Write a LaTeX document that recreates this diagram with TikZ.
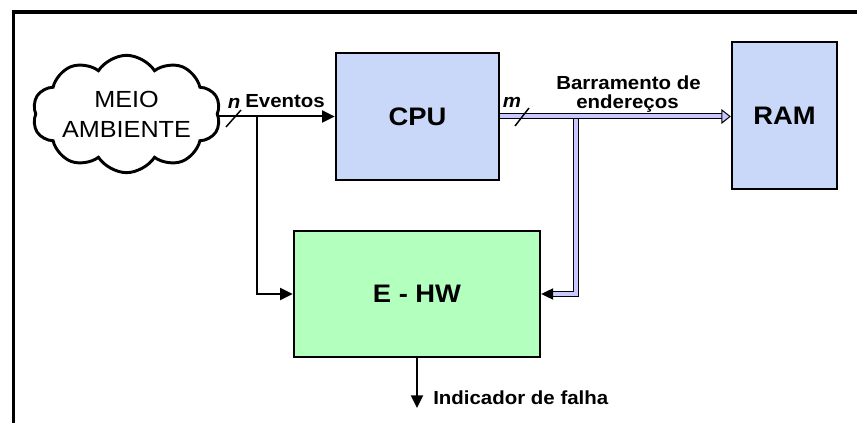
\documentclass[tikz,border=0pt]{standalone}
\usepackage{fontspec}
\setmainfont{Liberation Sans}
\usepackage{graphicx}
\usetikzlibrary{arrows.meta}
\usetikzlibrary{shapes.symbols}

\definecolor{cpublue}{RGB}{201,215,249}
\definecolor{ehwgreen}{RGB}{179,255,190}
\definecolor{buslilac}{RGB}{200,200,255}

\newcommand{\wtxt}[1]{\scalebox{1.08}[1]{#1}}

\tikzset{
  block/.style={draw, line width=1.8pt, fill=cpublue, inner sep=0pt, font=\bfseries\fontsize{19}{22}\selectfont},
  wire/.style={line width=1.5pt},
  sig/.style={wire, -{Triangle[length=9.5pt,width=9pt]}},
  bus/.style={draw=black, line width=0.75pt, double=buslilac, double distance=3pt},
  lbl/.style={inner sep=0pt, font=\bfseries\fontsize{14.2}{16}\selectfont},
}

\begin{document}
\begin{tikzpicture}[x=0.75pt,y=0.75pt,yscale=-1,xscale=1]
\useasboundingbox (0,0) rectangle (857,423);

%Frame (top and left only)
\draw [line width=2.7pt] (13.5,440) -- (13.5,12) -- (880,12) ;

%Cloud
\node [cloud, draw, line width=2.2pt, cloud puffs=10, cloud puff arc=115, cloud ignores aspect, minimum width=141pt, minimum height=88pt, inner sep=0pt, align=center, font=\fontsize{17.5}{22.5}\selectfont] (env) at (126.5,114) {\wtxt{MEIO}\\\wtxt{AMBIENTE}};

%Blocks
\node [block, minimum width=122.25pt, minimum height=95.25pt] (cpu) at (417.5,116.5) {\wtxt{CPU}};
\node [block, minimum width=78.75pt, minimum height=110.25pt] (ram) at (784.5,115.5) {\wtxt{RAM}};
\node [block, fill=ehwgreen, minimum width=184.5pt, minimum height=94.5pt] (ehw) at (417,294) {\wtxt{E - HW}};

%Events
\coordinate (evtap) at (257,116.5);
\draw [sig] (env.east |- cpu.west) -- (cpu.west) ;
\draw [sig] (evtap) |- (ehw.west) ;
\draw [line width=1.1pt] (226,127) -- (241,110) ;

%Address bus
\coordinate (bustap) at (575.5,116.5);
\draw [bus, -{Triangle[length=9pt,width=8.5pt]}] (bustap) |- (ehw.east) ;
\draw [bus, -{Triangle[open,fill=buslilac,length=7pt,width=11pt]}] (cpu.east) -- (cpu.east -| ram.west) ;
\draw [line width=1.1pt] (515,126) -- (529,108) ;

%Fault output
\coordinate (fail) at (417,408);
\draw [sig] (ehw.south) -- (fail) ;

% Text Node
\node [lbl, anchor=base] (nlbl) at (234,109) {\wtxt{\itshape n}};
% Text Node
\node [lbl, anchor=base west] (evlbl) at (245,108) {\wtxt{Eventos}};
% Text Node
\node [lbl, anchor=base] (mlbl) at (512,108) {\wtxt{\itshape m}};
% Text Node
\node [lbl, anchor=base] (buslbl) at (628.5,90) {\wtxt{Barramento de}};
\node [lbl, anchor=base] (buslblb) at (627.5,109) {\wtxt{endereços}};
% Text Node
\node [lbl, anchor=base west] (faillbl) at (433,405) {\wtxt{Indicador de falha}};

\end{tikzpicture}
\end{document}
